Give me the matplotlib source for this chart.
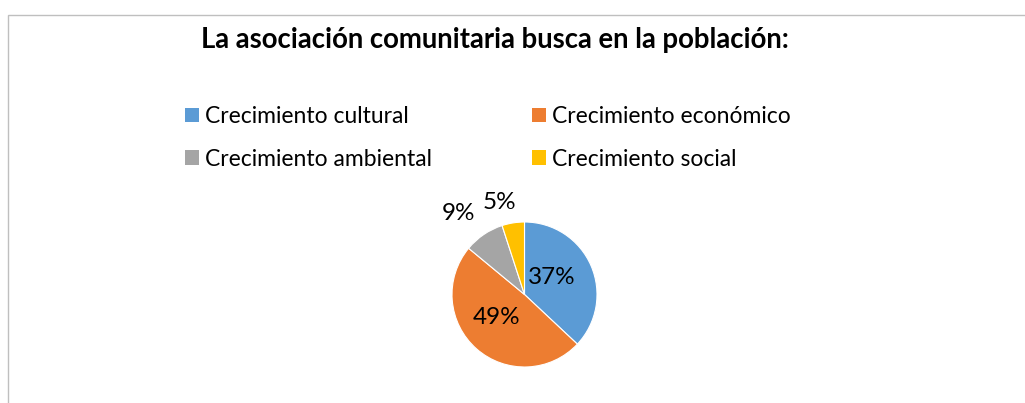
import matplotlib
matplotlib.use("Agg")
import matplotlib.pyplot as plt
from matplotlib.patches import Rectangle, Patch
import numpy as np

title = "La asociación comunitaria busca en la población:"
categories = ["Crecimiento cultural", "Crecimiento económico",
              "Crecimiento ambiental", "Crecimiento social"]
values = [37, 49, 9, 5]
colors = ["#5B9BD5", "#ED7D31", "#A5A5A5", "#FFC000"]

# label placement style (radial distance, angular offset in degrees)
label_r = [0.45, 0.50, 1.45, 1.31]
label_dtheta = [9.0, -10.0, 5.0, 6.5]

W, H = 1025, 403
fig = plt.figure(figsize=(W / 100, H / 100), dpi=100)
plt.rcParams['font.family'] = ['Lato', 'DejaVu Sans']

# chart border (top and left visible)
fig.patches.append(Rectangle((8 / W, -0.1), 1.2, (H - 15) / H + 0.1,
                             transform=fig.transFigure, fill=False,
                             edgecolor="#BFBFBF", linewidth=1.0))

fig.text(495 / W, 1 - 40 / H, title, ha="center", va="center",
         fontsize=19.8, fontweight="bold", color="#000000")

cx, cy, r = 524.5, 294.5, 72.5
ax = fig.add_axes([(cx - r) / W, (H - cy - r) / H, 2 * r / W, 2 * r / H])
wedges, _ = ax.pie(values, colors=colors, startangle=90, counterclock=False,
                   wedgeprops=dict(edgecolor="white", linewidth=0.8))
ax.set_xlim(-1, 1)
ax.set_ylim(-1, 1)
ax.set_aspect("equal")
ax.axis("off")

total = sum(values)
for w, v, rr, dt in zip(wedges, values, label_r, label_dtheta):
    mid = np.deg2rad((w.theta1 + w.theta2) / 2 + dt)
    ax.text(rr * np.cos(mid), rr * np.sin(mid), f"{round(100 * v / total)}%",
            ha="center", va="center", fontsize=17.5, color="#000000",
            clip_on=False)

order = [0, 2, 1, 3]
handles = [Patch(facecolor=colors[i], edgecolor="none") for i in order]
labels = [categories[i] for i in order]
fig.legend(handles, labels, ncol=2, loc="upper left",
           bbox_to_anchor=(185 / W, 1 - 106 / H), frameon=False,
           fontsize=16.5, handlelength=0.61, handleheight=0.61,
           handletextpad=0.27, columnspacing=4.36, labelspacing=0.95,
           borderpad=0, borderaxespad=0)

fig.savefig("out.png", dpi=100)
